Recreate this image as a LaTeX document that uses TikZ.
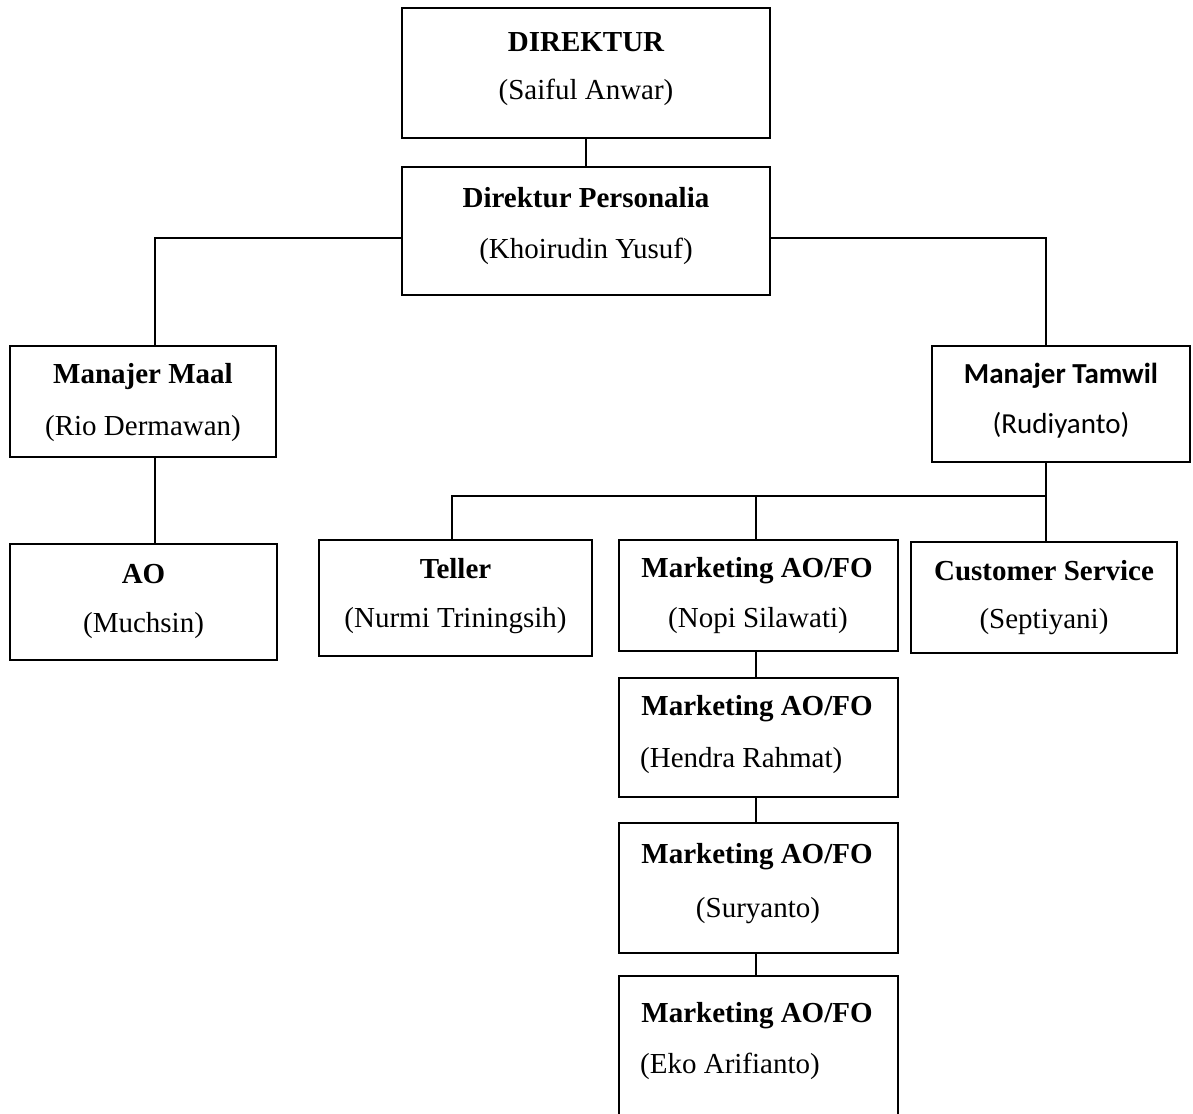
\documentclass[tikz,border=0pt]{standalone}
\usepackage{fontspec}
\setmainfont{Liberation Serif}
\newfontfamily\calibrifont{Carlito}
\begin{document}
\begin{tikzpicture}[x=1pt,y=-1pt,
  box/.style={draw=black,line width=2.7pt,rectangle,inner sep=0pt,outer sep=0pt},
  conn/.style={draw=black,line width=1.7pt},
  txt/.style={inner sep=0pt,anchor=base,font=\fontsize{29}{35}\selectfont},
  btxt/.style={txt,font=\fontsize{29}{35}\selectfont\bfseries},
  ctxt/.style={txt,font=\fontsize{29}{35}\selectfont\calibrifont},
  cbtxt/.style={txt,font=\fontsize{29}{35}\selectfont\calibrifont\bfseries}]
\useasboundingbox[fill=white] (0,0) rectangle (1193,1113);

% boxes
\node[box,minimum width=368pt,minimum height=130pt] (dir) at (586,73) {};
\node[box,minimum width=368pt,minimum height=128pt] (per) at (586,231) {};
\node[box,minimum width=266pt,minimum height=111pt] (maal) at (143,401.5) {};
\node[box,minimum width=258pt,minimum height=116pt] (tam) at (1061,404) {};
\node[box,minimum width=267pt,minimum height=116pt] (ao) at (143.5,602) {};
\node[box,minimum width=273pt,minimum height=116pt] (tel) at (455.5,598) {};
\node[box,minimum width=279pt,minimum height=111pt] (m1) at (758.5,595.5) {};
\node[box,minimum width=266pt,minimum height=111pt] (cs) at (1044,597.5) {};
\node[box,minimum width=279pt,minimum height=119pt] (m2) at (758.5,737.5) {};
\node[box,minimum width=279pt,minimum height=130pt] (m3) at (758.5,888) {};
\node[box,minimum width=279pt,minimum height=160pt] (m4) at (758.5,1056) {};

% junction coordinates
\coordinate (jl) at (155,238);
\coordinate (jr) at (1046,238);
\coordinate (bus) at (1046,496);
\coordinate (bt) at (452,496);
\coordinate (bm) at (756,496);

% connectors
\draw[conn] (dir.south) -- (per.north);
\draw[conn] (per.west |- jl) -- (jl) -- (jl |- maal.north);
\draw[conn] (per.east |- jr) -- (jr) -- (jr |- tam.north);
\draw[conn] (jl |- maal.south) -- (jl |- ao.north);
\draw[conn] (bus |- tam.south) -- (bus) -- (bt) -- (bt |- tel.north);
\draw[conn] (bm) -- (bm |- m1.north);
\draw[conn] (bus) -- (bus |- cs.north);
\draw[conn] (bm |- m1.south) -- (bm |- m2.north);
\draw[conn] (bm |- m2.south) -- (bm |- m3.north);
\draw[conn] (bm |- m3.south) -- (bm |- m4.north);

% texts
\node[btxt] (dir1) at (586,52) {DIREKTUR};
\node[txt] (dir2) at (586,100) {(Saiful Anwar)};
\node[btxt] (per1) at (586,207) {Direktur Personalia};
\node[txt] (per2) at (586,258) {(Khoirudin Yusuf)};
\node[btxt] (maal1) at (143,383) {Manajer Maal};
\node[txt] (maal2) at (143,435) {(Rio Dermawan)};
\node[cbtxt] (tam1) at (1061,383) {Manajer Tamwil};
\node[ctxt] (tam2) at (1061,433) {(Rudiyanto)};
\node[btxt] (ao1) at (143.5,583) {AO};
\node[txt] (ao2) at (143.5,632) {(Muchsin)};
\node[btxt] (tel1) at (455.5,578) {Teller};
\node[txt] (tel2) at (455.5,627) {(Nurmi Triningsih)};
\node[btxt] (m11) at (757,577) {Marketing AO/FO};
\node[txt] (m12) at (758,627) {(Nopi Silawati)};
\node[btxt] (cs1) at (1044,580) {Customer Service};
\node[txt] (cs2) at (1044,628) {(Septiyani)};
\node[btxt] (m21) at (757,715) {Marketing AO/FO};
\node[txt,anchor=base west] (m22) at (640,767) {(Hendra Rahmat)};
\node[btxt] (m31) at (757,863) {Marketing AO/FO};
\node[txt] (m32) at (758,917) {(Suryanto)};
\node[btxt] (m41) at (757,1022) {Marketing AO/FO};
\node[txt,anchor=base west] (m42) at (640,1073) {(Eko Arifianto)};
\end{tikzpicture}
\end{document}
